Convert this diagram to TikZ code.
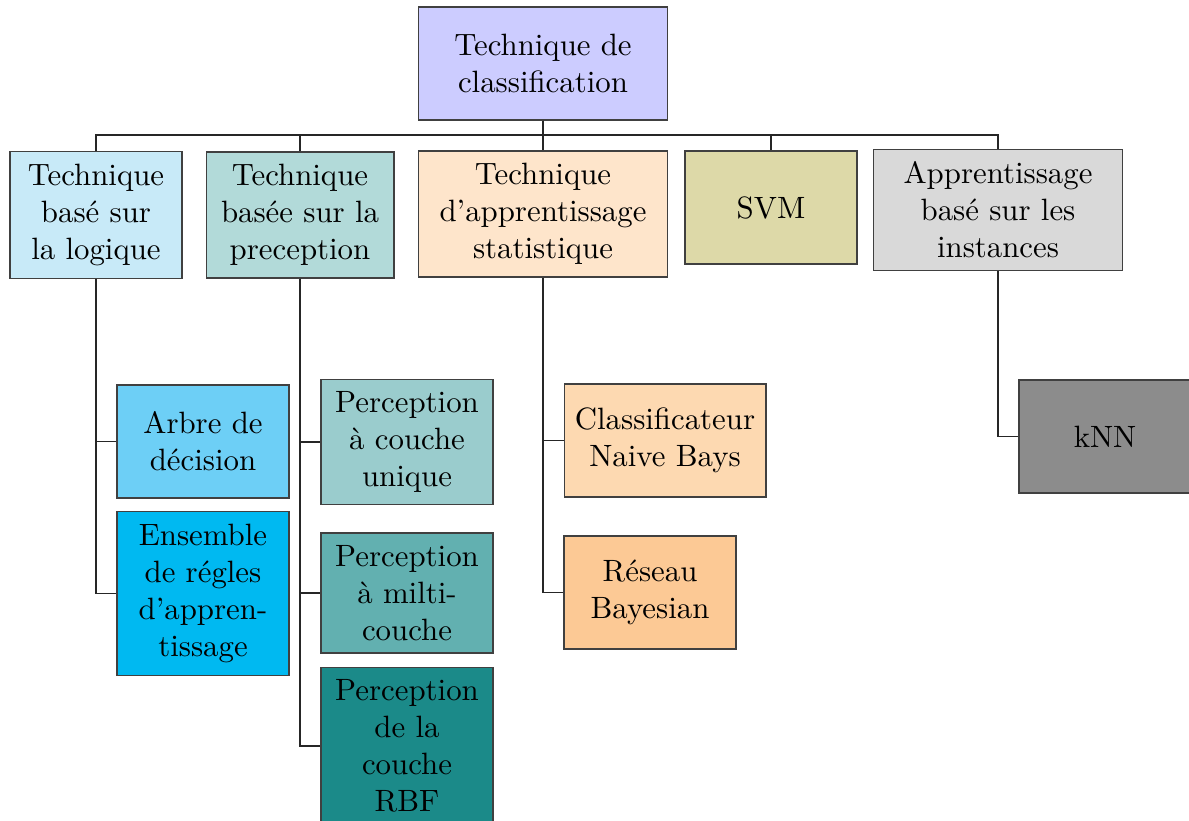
\documentclass[tikz,border=0pt]{standalone}
\definecolor{rootc}{RGB}{204,204,255}
\definecolor{logc}{RGB}{200,234,248}
\definecolor{arbc}{RGB}{109,207,246}
\definecolor{regc}{RGB}{0,185,241}
\definecolor{perc}{RGB}{178,218,217}
\definecolor{pcuc}{RGB}{154,204,205}
\definecolor{pmcc}{RGB}{98,176,176}
\definecolor{rbfc}{RGB}{27,138,137}
\definecolor{statc}{RGB}{254,229,203}
\definecolor{nbc}{RGB}{253,217,177}
\definecolor{rbc}{RGB}{252,201,149}
\definecolor{svmc}{RGB}{221,217,168}
\definecolor{instc}{RGB}{217,217,217}
\definecolor{knnc}{RGB}{140,140,140}

\begin{document}
\begin{tikzpicture}[x=0.0114cm,y=-0.0114cm,
    box/.style={draw=black!75,align=center,minimum width=1.96cm,minimum height=1.29cm,inner xsep=3.3pt,inner ysep=4pt},
    link/.style={draw=black!85,thin}]
    \clip (0,0) rectangle (1189,821);

    \node[box,fill=rootc,minimum width=2.83cm] (root) at (543,63.5) {Technique de\\classification};

    \node[box,fill=logc] (tl) at (96,215) {Technique\\basé sur\\la logique};
    \node[box,fill=perc,minimum width=2.14cm] (tp) at (300,215) {Technique\\basée sur la\\preception};
    \node[box,fill=statc,minimum width=2.83cm] (ts) at (543,214) {Technique\\d'apprentissage\\statistique};
    \node[box,fill=svmc] (svm) at (771,207.5) {SVM};
    \node[box,fill=instc,minimum width=2.83cm] (ti) at (998,210) {Apprentissage\\basé sur les\\instances};

    \node[box,fill=arbc] (arbre) at (203,441.5) {Arbre de\\décision};
    \node[box,fill=regc] (regles) at (203,593.5) {Ensemble\\de régles\\d'appren-\\tissage};
    \node[box,fill=pcuc] (pcu) at (407,442) {Perception\\à couche\\unique};
    \node[box,fill=pmcc] (pmc) at (407,593) {Perception\\à milti-\\couche};
    \node[box,fill=rbfc] (prbf) at (407,746) {Perception\\de la\\couche\\RBF};
    \node[box,fill=nbc,minimum width=2.3cm] (nb) at (665,440.5) {Classificateur\\Naive Bays};
    \node[box,fill=rbc] (rb) at (650,592.5) {Réseau\\Bayesian};
    \node[box,fill=knnc] (knn) at (1105,436.5) {kNN};

    \coordinate (bus) at (543,135);
    \foreach \c in {tl,tp,ts,svm,ti}
        \draw[link] (root.south) -- (bus) -| (\c.north);
    \foreach \p/\c in {tl/arbre,tl/regles,tp/pcu,tp/pmc,tp/prbf,ts/nb,ts/rb,ti/knn}
        \draw[link] (\p.south) |- (\c.west);
\end{tikzpicture}
\end{document}
